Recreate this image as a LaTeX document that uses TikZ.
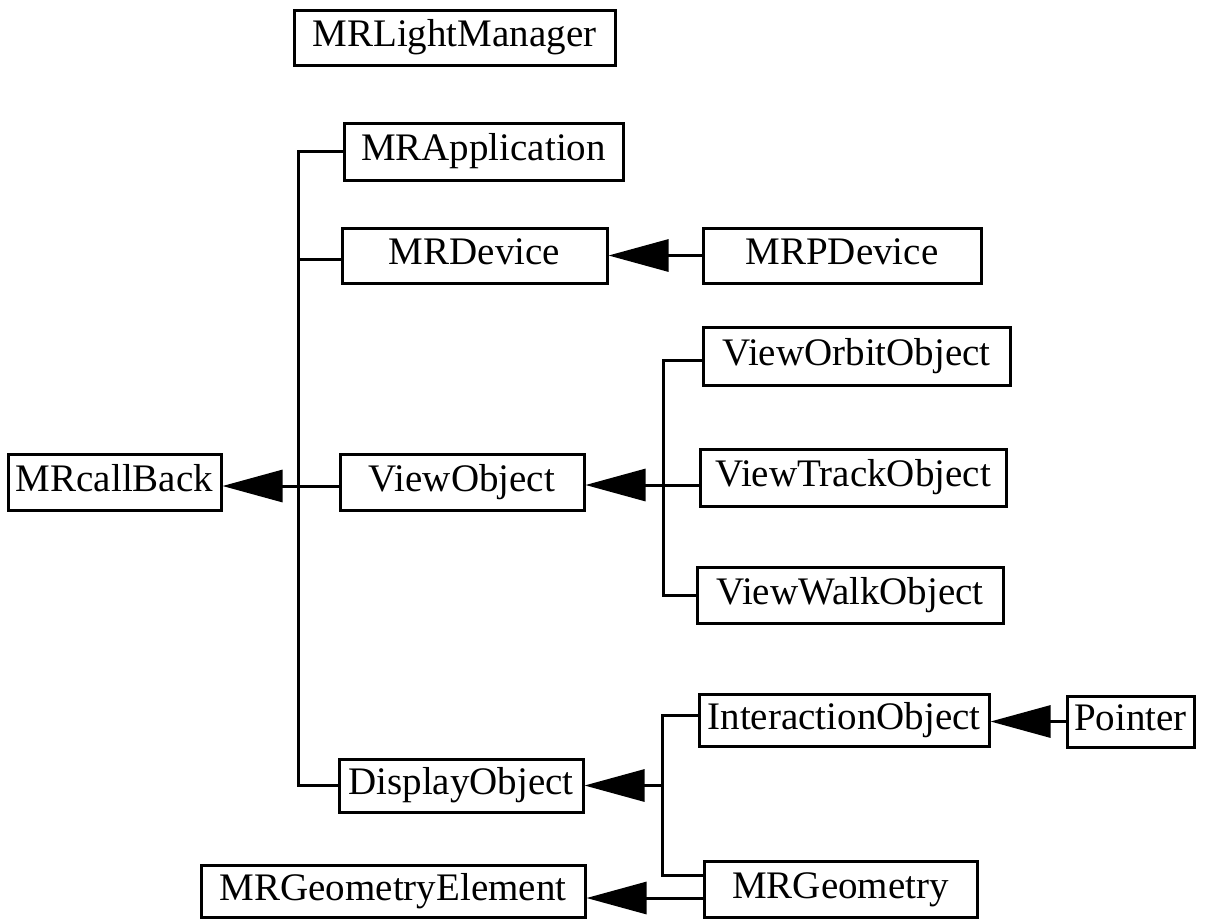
\documentclass[tikz,border=0pt]{standalone}
\usepackage{fontspec}
\setmainfont{Liberation Serif}
\usetikzlibrary{arrows.meta}
\begin{document}
\begin{tikzpicture}[x=1pt,y=1pt,
  box/.style={draw=black, line width=3pt, fill=white, inner sep=0pt,
    text height=26pt, text depth=8pt, anchor=center,
    font=\fontsize{39pt}{40pt}\selectfont},
  conn/.style={draw=black, line width=3pt},
  inh/.style={conn, -{Triangle[length=60pt,width=32pt]}}]
\useasboundingbox (0,0) rectangle (1206,-919);
\fill[white] (0,0) rectangle (1206,-919);

\node[box, minimum width=321pt, minimum height=55pt] (lm)    at (454.5,-37.5) {MRLightManager};
\node[box, minimum width=279pt, minimum height=57pt] (app)   at (483.5,-151.5) {MRApplication};
\node[box, minimum width=265pt, minimum height=55pt] (dev)   at (474.5,-255.5) {MRDevice};
\node[box, minimum width=278pt, minimum height=55pt] (pdev)  at (842,-255.5) {MRPDevice};
\node[box, minimum width=307pt, minimum height=58pt] (orbit) at (856.5,-356) {ViewOrbitObject};
\node[box, minimum width=213pt, minimum height=56pt] (cb)    at (114.5,-482) {MRcallBack};
\node[box, minimum width=244pt, minimum height=56pt] (vo)    at (462,-482) {ViewObject};
\node[box, minimum width=306pt, minimum height=57pt] (track) at (853,-477.5) {ViewTrackObject};
\node[box, minimum width=306pt, minimum height=56pt] (walk)  at (850,-595) {ViewWalkObject};
\node[box, minimum width=290pt, minimum height=52pt] (inter) at (844,-720) {InteractionObject};
\node[box, minimum width=127pt, minimum height=51pt] (ptr)   at (1130.5,-721.5) {Pointer};
\node[box, minimum width=244pt, minimum height=53pt] (disp)  at (461,-785.5) {DisplayObject};
\node[box, minimum width=384pt, minimum height=52pt] (geoel) at (393,-891) {MRGeometryElement};
\node[box, minimum width=273pt, minimum height=56pt] (geo)   at (840.5,-889) {MRGeometry};

\coordinate (bus) at (298,0);
\coordinate (vbus) at (663,0);
\coordinate (dbus) at (662,0);

% main bus
\draw[conn] (app.west) -| (disp.west -| bus) -- (disp.west);
\draw[conn] ([yshift=-4pt]dev.west) -- ([yshift=-4pt]dev.west -| bus);
\draw[inh] ([yshift=-4pt]vo.west) -- ([yshift=-4pt]vo.west -| cb.east);

% MRPDevice
\draw[inh] (pdev.west) -- (dev.east);

% view bus
\draw[conn] ([yshift=-4pt]orbit.west) -| (walk.west -| vbus) -- (walk.west);
\draw[inh] ([yshift=-7.5pt]track.west) -- ([yshift=-7.5pt]track.west -| vo.east);

% display bus
\draw[conn] ([yshift=5pt]inter.west) -| ([yshift=14pt]geo.west -| dbus) -- ([yshift=14pt]geo.west);
\draw[inh] (disp.east -| dbus) -- (disp.east);
\draw[inh] (ptr.west) -- (ptr.west -| inter.east);
\draw[inh] ([yshift=-9pt]geo.west) -- ([yshift=-9pt]geo.west -| geoel.east);
\end{tikzpicture}
\end{document}
